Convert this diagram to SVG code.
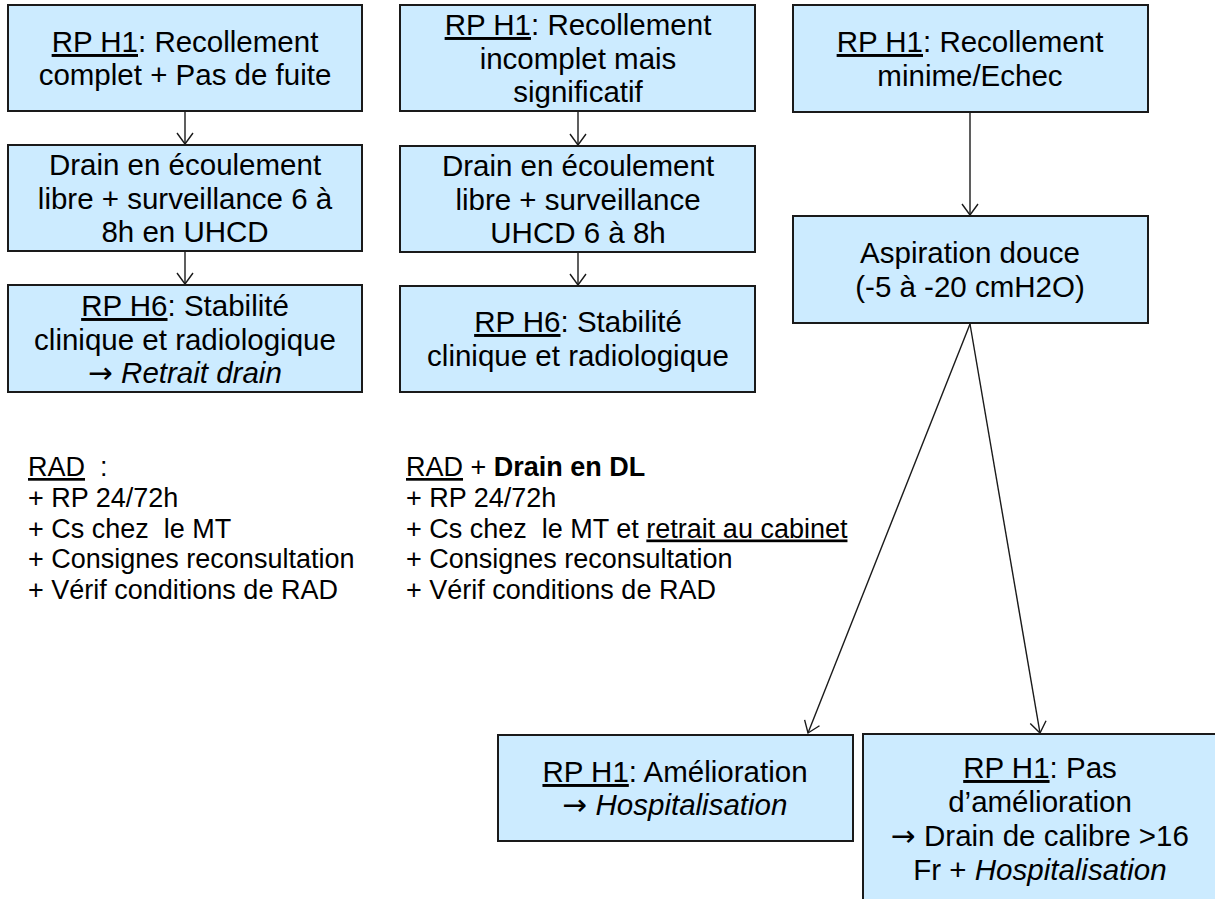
<svg xmlns="http://www.w3.org/2000/svg" width="1215" height="899" viewBox="0 0 1215 899">
<style>
.box{fill:#CCEBFF;stroke:#1a1a1a;stroke-width:2}
.t{font-family:"Liberation Sans",Arial,sans-serif;font-size:29.5px;fill:#000;text-anchor:middle}
.s{font-family:"Liberation Sans",Arial,sans-serif;font-size:27px;fill:#000;white-space:pre}
.u{text-decoration:underline}
.i{font-style:italic}
.b{font-weight:bold}
.ar{font-family:"DejaVu Sans",sans-serif;font-size:29.5px}
.c{fill:none;stroke:#1a1a1a;stroke-width:1.4}
</style>
<defs>
<marker id="ah" viewBox="0 0 24 24" refX="12" refY="12" markerWidth="24" markerHeight="24" markerUnits="userSpaceOnUse" orient="auto">
<path d="M1,4 L12,12 L1,20" fill="none" stroke="#1a1a1a" stroke-width="1.4"/>
</marker>
</defs>
<rect width="1215" height="899" fill="#fff"/>
<g id="connectors">
<line class="c" x1="185" y1="112" x2="185" y2="144" marker-end="url(#ah)"/>
<line class="c" x1="185" y1="252" x2="185" y2="284" marker-end="url(#ah)"/>
<line class="c" x1="578" y1="112" x2="578" y2="145" marker-end="url(#ah)"/>
<line class="c" x1="578" y1="252" x2="578" y2="285" marker-end="url(#ah)"/>
<line class="c" x1="970" y1="112" x2="970" y2="215" marker-end="url(#ah)"/>
<line class="c" x1="970" y1="324" x2="808" y2="733" marker-end="url(#ah)"/>
<line class="c" x1="970" y1="324" x2="1040" y2="733" marker-end="url(#ah)"/>
</g>
<g id="n1">
<rect class="box" x="8" y="5" width="354" height="106"/>
<text class="t" x="185" y="52"><tspan class="u">RP H1</tspan>: Recollement</text>
<text class="t" x="185" y="85">complet + Pas de fuite</text>
</g>
<g id="n2">
<rect class="box" x="8" y="145" width="354" height="106"/>
<text class="t" x="185" y="175">Drain en écoulement</text>
<text class="t" x="185" y="208.5">libre + surveillance 6 à</text>
<text class="t" x="185" y="242">8h en UHCD</text>
</g>
<g id="n3">
<rect class="box" x="8" y="285" width="354" height="107"/>
<text class="t" x="185" y="316"><tspan class="u">RP H6</tspan>: Stabilité</text>
<text class="t" x="185" y="350">clinique et radiologique</text>
<text class="t" x="185" y="383"><tspan class="ar">→</tspan> <tspan class="i">Retrait drain</tspan></text>
</g>
<g id="n4">
<rect class="box" x="400" y="5" width="355" height="106"/>
<text class="t" x="578" y="35"><tspan class="u">RP H1</tspan>: Recollement</text>
<text class="t" x="578" y="68.5">incomplet mais</text>
<text class="t" x="578" y="102">significatif</text>
</g>
<g id="n5">
<rect class="box" x="400" y="146" width="355" height="106"/>
<text class="t" x="578" y="176">Drain en écoulement</text>
<text class="t" x="578" y="209.5">libre + surveillance</text>
<text class="t" x="578" y="243">UHCD 6 à 8h</text>
</g>
<g id="n6">
<rect class="box" x="400" y="286" width="355" height="106"/>
<text class="t" x="578" y="332"><tspan class="u">RP H6</tspan>: Stabilité</text>
<text class="t" x="578" y="365.5">clinique et radiologique</text>
</g>
<g id="n7">
<rect class="box" x="793" y="5" width="355" height="107"/>
<text class="t" x="970" y="52"><tspan class="u">RP H1</tspan>: Recollement</text>
<text class="t" x="970" y="85.5">minime/Echec</text>
</g>
<g id="n8">
<rect class="box" x="793" y="216" width="355" height="107"/>
<text class="t" x="970" y="263">Aspiration douce</text>
<text class="t" x="970" y="296.5">(-5 à -20 cmH2O)</text>
</g>
<g id="n9">
<rect class="box" x="498" y="735" width="355" height="106"/>
<text class="t" x="675" y="782"><tspan class="u">RP H1</tspan>: Amélioration</text>
<text class="t" x="675" y="815"><tspan class="ar">→</tspan> <tspan class="i">Hospitalisation</tspan></text>
</g>
<g id="n10">
<rect class="box" x="863" y="734" width="355" height="172"/>
<text class="t" x="1040" y="778"><tspan class="u">RP H1</tspan>: Pas</text>
<text class="t" x="1040" y="812">d’amélioration</text>
<text class="t" x="1040" y="846"><tspan class="ar">→</tspan> Drain de calibre &gt;16</text>
<text class="t" x="1040" y="880">Fr + <tspan class="i">Hospitalisation</tspan></text>
</g>
<g id="note1">
<text class="s" x="28" y="476"><tspan class="u">RAD</tspan>  :</text>
<text class="s" x="28" y="507">+ RP 24/72h</text>
<text class="s" x="28" y="537.5">+ Cs chez  le MT</text>
<text class="s" x="28" y="568">+ Consignes reconsultation</text>
<text class="s" x="28" y="599">+ Vérif conditions de RAD</text>
</g>
<g id="note2">
<text class="s" x="406" y="476"><tspan class="u">RAD</tspan> + <tspan class="b">Drain en DL</tspan></text>
<text class="s" x="406" y="507">+ RP 24/72h</text>
<text class="s" x="406" y="537.5">+ Cs chez  le MT et <tspan class="u">retrait au cabinet</tspan></text>
<text class="s" x="406" y="568">+ Consignes reconsultation</text>
<text class="s" x="406" y="599">+ Vérif conditions de RAD</text>
</g>
</svg>
